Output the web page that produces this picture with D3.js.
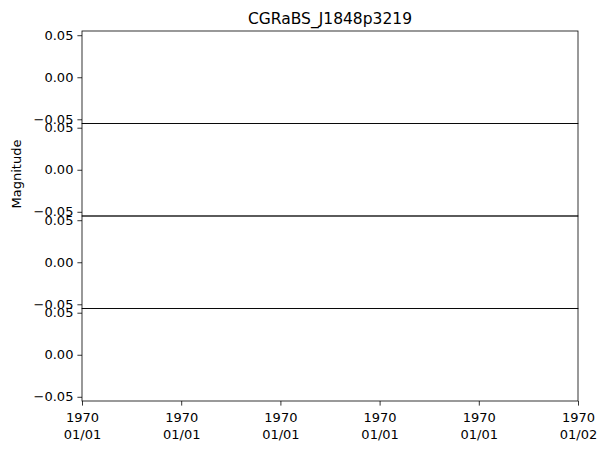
<!DOCTYPE html>
<html><head><meta charset="utf-8">
<script src="https://cdn.jsdelivr.net/npm/d3@7"></script>
<style>body{margin:0;background:#fff}svg{display:block}text{font-family:"DejaVu Sans",sans-serif;fill:#000}</style>
</head><body>
<script>
const title = "CGRaBS_J1848p3219";
const yLabel = "Magnitude";
const panels = ["p1", "p2", "p3", "p4"];
const panelValues = [[], [], [], []];
const yDomain = [-0.055, 0.055];
const yTicks = [-0.05, 0.00, 0.05];
const xTickValues = [0, 0.2, 0.4, 0.6, 0.8, 1.0];
const xTickLabels = [["1970","01/01"],["1970","01/01"],["1970","01/01"],["1970","01/01"],["1970","01/01"],["1970","01/02"]];

const W = 607, H = 451;
const mLeft = 82, mRight = 578, mTop = 31, mBottom = 401;
const ph = (mBottom - mTop) / panels.length;
const fs = 13;
const svg = d3.select("body").append("svg").attr("width", W).attr("height", H);

const x = d3.scaleLinear().domain([0, 1]).range([mLeft, mRight]);

panels.forEach((p, i) => {
  const y0 = mTop + i * ph, y1 = y0 + ph;
  const y = d3.scaleLinear().domain(yDomain).range([y1, y0]);
  const g = svg.append("g");
  g.selectAll("circle").data(panelValues[i]).join("circle")
    .attr("cx", d => x(d[0])).attr("cy", d => y(d[1])).attr("r", 2);
  const ax = g.append("g").attr("transform", `translate(${mLeft},0)`)
    .call(d3.axisLeft(y).tickValues(yTicks).tickFormat(d3.format(".2f")).tickSize(4.6).tickPadding(4));
  ax.select(".domain").remove();
  ax.selectAll("text").style("font-size", fs + "px").style("font-family", "DejaVu Sans")
    .text(d => d3.format(".2f")(d).replace("-", "\u2212"));
  ax.selectAll("line").attr("stroke", "#000").attr("stroke-width", 0.8);
  g.append("rect").attr("x", mLeft).attr("y", y0).attr("width", mRight - mLeft).attr("height", ph)
    .attr("fill", "none").attr("stroke", "#000").attr("stroke-width", 0.8);
});

const xa = svg.append("g").attr("transform", `translate(0,${mBottom})`)
  .call(d3.axisBottom(x).tickValues(xTickValues).tickSize(4.6).tickFormat(""));
xa.select(".domain").remove();
xa.selectAll("line").attr("stroke", "#000").attr("stroke-width", 0.8);
xa.selectAll(".tick").each(function(d, i) {
  const t = d3.select(this).append("text").attr("text-anchor", "middle")
    .style("font-size", fs + "px");
  t.append("tspan").attr("x", 0).attr("y", 21).text(xTickLabels[i][0]);
  t.append("tspan").attr("x", 0).attr("y", 38).text(xTickLabels[i][1]);
});

svg.append("text").attr("x", (mLeft + mRight) / 2).attr("y", 24).attr("text-anchor", "middle")
  .style("font-size", "15.5px").text(title);
svg.append("text").attr("transform", `translate(21,174) rotate(-90)`).attr("text-anchor", "middle")
  .style("font-size", fs + "px").text(yLabel);
</script>
</body></html>
